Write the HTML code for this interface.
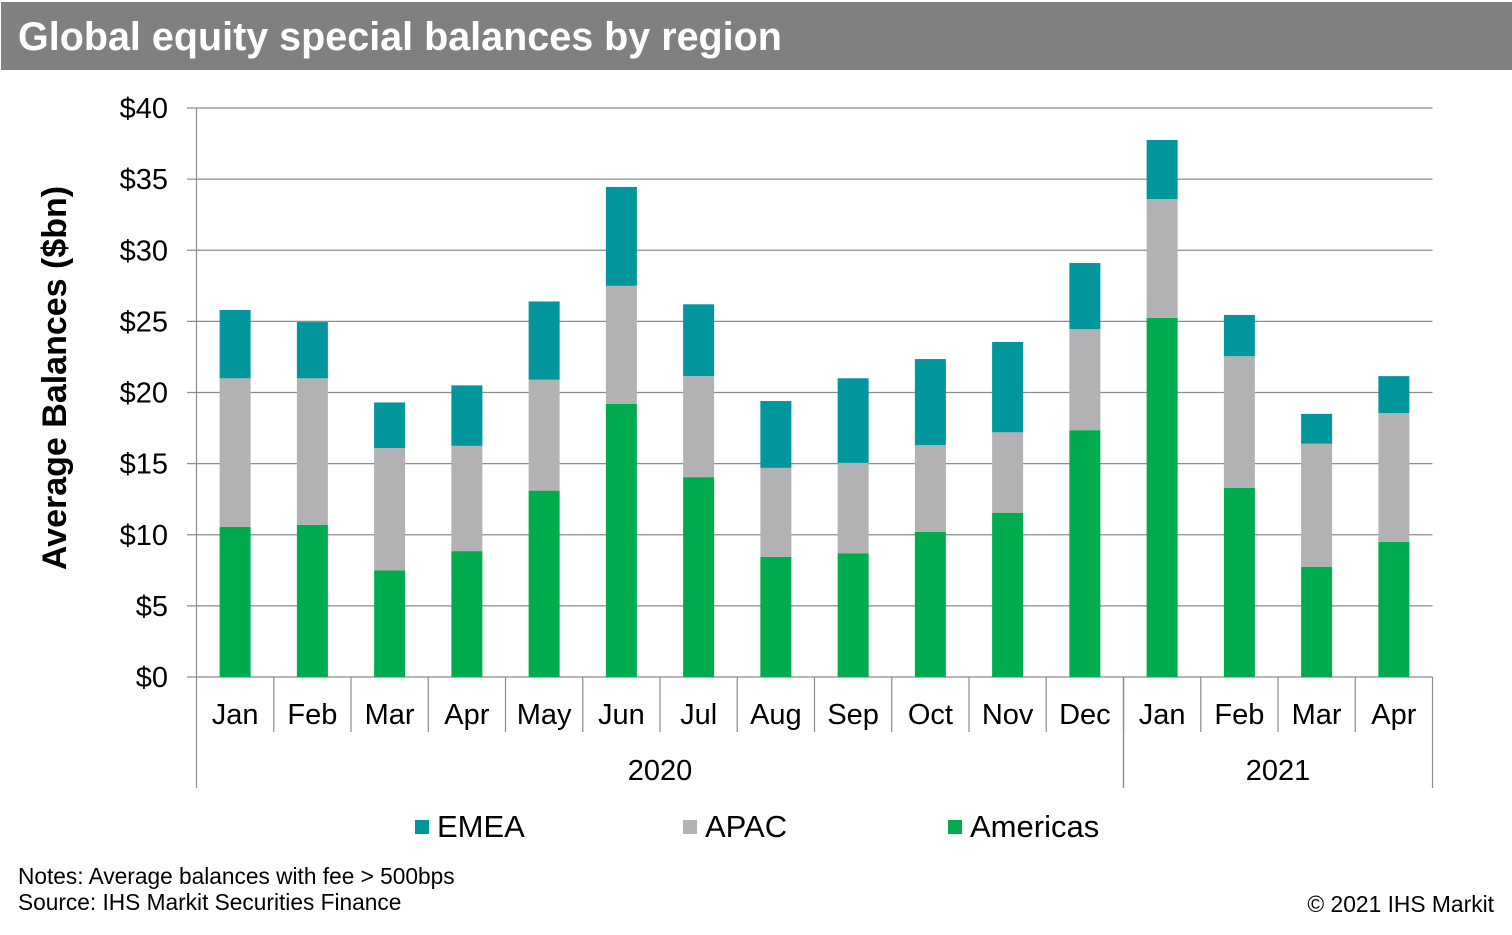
<!DOCTYPE html>
<html><head><meta charset="utf-8"><style>
body{margin:0;background:#fff;width:1512px;height:930px;overflow:hidden;font-family:"Liberation Sans",Arial,sans-serif}
svg text{font-family:"Liberation Sans",Arial,sans-serif}
</style></head><body>
<svg id="c" width="1512" height="930" xmlns="http://www.w3.org/2000/svg">
<rect x="1" y="2" width="1511" height="68" fill="#808080"/>
<text x="18" y="50" font-size="39.5" font-weight="bold" fill="#fff">Global equity special balances by region</text>
<text transform="translate(66,378) rotate(-90)" text-anchor="middle" font-size="34" font-weight="bold" fill="#000">Average Balances ($bn)</text>
<g id="grid"></g><g id="bars"></g><g id="axis"></g>
<g>
<rect x="415" y="820" width="14" height="14" fill="#00969c"/>
<text x="437" y="837" font-size="31">EMEA</text>
<rect x="683" y="820" width="14" height="14" fill="#b2b2b4"/>
<text x="705" y="837" font-size="31">APAC</text>
<rect x="948" y="820" width="14" height="14" fill="#00ab4e"/>
<text x="970" y="837" font-size="31">Americas</text>
</g>
<text x="18" y="884" font-size="22.7">Notes: Average balances with fee &gt; 500bps</text>
<text x="18" y="910" font-size="22.7">Source: IHS Markit Securities Finance</text>
<text x="1494" y="912" font-size="22.8" text-anchor="end">© 2021 IHS Markit</text>
</svg>
<script>
const categories=["Jan","Feb","Mar","Apr","May","Jun","Jul","Aug","Sep","Oct","Nov","Dec","Jan","Feb","Mar","Apr"];
const americas=[10.55,10.7,7.5,8.85,13.1,19.2,14.05,8.45,8.7,10.2,11.55,17.35,25.25,13.3,7.75,9.5];
const apac=[10.45,10.3,8.6,7.4,7.8,8.3,7.1,6.25,6.35,6.1,5.65,7.1,8.35,9.25,8.65,9.05];
const emea=[4.8,3.95,3.2,4.25,5.5,6.95,5.05,4.7,5.95,6.05,6.35,4.65,4.15,2.9,2.1,2.6];
const yTicks=[0,5,10,15,20,25,30,35,40];
const years=[{label:"2020",start:0,end:12},{label:"2021",start:12,end:16}];
const NS="http://www.w3.org/2000/svg";
const X0=196.5,X1=1432.5,Y0=677,Y1=108,YMAX=40;
const step=(X1-X0)/categories.length;
const y=v=>Y0-(v/YMAX)*(Y0-Y1);
const xc=i=>X0+step*(i+0.5);
function mk(tag,at,parent){const e=document.createElementNS(NS,tag);for(const k in at)e.setAttribute(k,at[k]);parent.appendChild(e);return e;}
const grid=document.getElementById('grid'),bars=document.getElementById('bars'),axis=document.getElementById('axis');
yTicks.forEach(t=>{
 const l=mk('line',{x1:187,x2:X1,y1:y(t),y2:y(t),stroke:'#8c8c8c','stroke-width':1.2},grid);
 
 
 const tx=mk('text',{x:168,y:y(t)+10,'text-anchor':'end','font-size':29},grid);
 tx.textContent='$'+t;
 
 
});
const series=[[americas,'#00ab4e','americas'],[apac,'#b2b2b4','apac'],[emea,'#00969c','emea']];
categories.forEach((c,i)=>{
 let base=0;
 series.forEach(([arr,col,nm])=>{
  const v=arr[i];
  const r=mk('rect',{x:xc(i)-15.5,width:31,y:y(base+v),height:y(base)-y(base+v),fill:col},bars);
  
  
  base+=v;
 });
 const tx=mk('text',{x:xc(i),y:724,'text-anchor':'middle','font-size':29},axis);
 tx.textContent=c;
 
 
 if(i>0){const l=mk('line',{x1:X0+step*i,x2:X0+step*i,y1:Y0,y2:732,stroke:'#8c8c8c','stroke-width':1.2},axis);
 
 }
});
const yl=mk('line',{x1:X0,x2:X0,y1:Y1,y2:Y0,stroke:'#8c8c8c','stroke-width':1.2},axis);


years.forEach(g=>{
 [g.start,g.end].forEach(k=>{const l=mk('line',{x1:X0+step*k,x2:X0+step*k,y1:Y0,y2:788,stroke:'#8c8c8c','stroke-width':1.2},axis);
 
 });
 const tx=mk('text',{x:X0+step*(g.start+g.end)/2,y:780,'text-anchor':'middle','font-size':29},axis);
 tx.textContent=g.label;
 
 
});
</script>
</body></html>
